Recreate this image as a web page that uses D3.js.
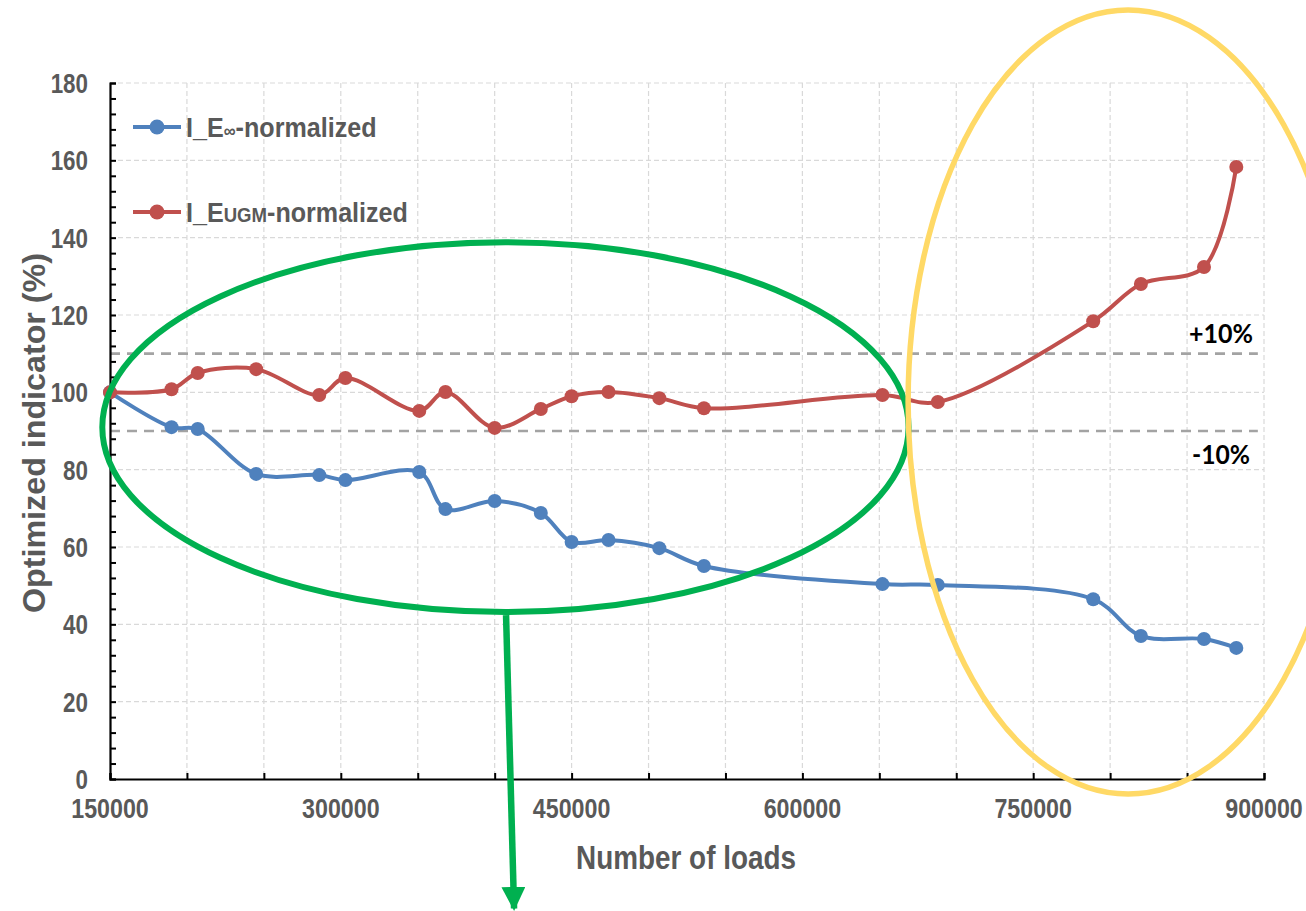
<!DOCTYPE html>
<html>
<head>
<meta charset="utf-8">
<script src="https://cdn.jsdelivr.net/npm/d3@7"></script>
<style>
  html, body { margin: 0; padding: 0; background: #fff; }
  svg { display: block; }
</style>
</head>
<body>
<svg id="chart" width="1306" height="911"></svg>
<script>
// ---------------- data ----------------
const loads = [150000, 190000, 207000, 245000, 286000, 303000, 351000, 368000, 400000, 430000,
               450000, 474000, 507000, 536000, 652000, 688000, 789000, 820000, 861000, 882000];
const eInfNormalized = [100, 91.0, 90.5, 78.9, 78.6, 77.3, 79.4, 69.8, 71.9, 68.8,
                        61.3, 61.8, 59.7, 55.1, 50.4, 50.2, 46.5, 37.0, 36.2, 33.9];
const eUgmNormalized = [100, 100.8, 105.0, 106.0, 99.3, 103.7, 95.2, 100.1, 90.8, 95.7,
                        99.0, 100.1, 98.5, 95.9, 99.3, 97.5, 118.4, 128.0, 132.4, 158.3];
const xTickValues = [150000, 300000, 450000, 600000, 750000, 900000];
const yTickValues = [0, 20, 40, 60, 80, 100, 120, 140, 160, 180];
const thresholdValues = [110, 90];
const thresholdLabels = ["+10%", "-10%"];
const xTitle = "Number of loads";
const yTitle = "Optimized indicator (%)";
// annotation shapes, in data units: [centerLoads, centerPct, radiusLoads, radiusPct]
const greenEllipse = [407000, 91, 262000, 47.8];
const yellowEllipse = [811700, 97.5, 143000, 101.4];
// arrow: [fromLoads, fromPct, toLoads, toPct]
const greenArrow = [407400, 42.4, 412600, -33.5];

// ---------------- layout ----------------
const svg = d3.select("#chart");
const L = 110, R = 1264, T = 83, B = 779;
const x = d3.scaleLinear().domain([150000, 900000]).range([L, R]);
const y = d3.scaleLinear().domain([0, 180]).range([B, T]);
const blue = "#4F81BD", red = "#C0504D", grey = "#595959";
const FONT = "'Liberation Sans', Arial, sans-serif";

// gridlines
const grid = svg.append("g");
grid.selectAll("line.v").data(d3.range(200000, 900001, 50000)).join("line")
  .attr("x1", d => x(d)).attr("x2", d => x(d)).attr("y1", T).attr("y2", B)
  .attr("stroke", "#D9D9D9").attr("stroke-width", 1.2).attr("stroke-dasharray", "5,3");
grid.selectAll("line.h").data(d3.range(20, 181, 20)).join("line")
  .attr("x1", L).attr("x2", R).attr("y1", d => y(d)).attr("y2", d => y(d))
  .attr("stroke", "#D9D9D9").attr("stroke-width", 1.2).attr("stroke-dasharray", "5,3");

// threshold lines
svg.append("g").selectAll("line").data(thresholdValues).join("line")
  .attr("x1", L).attr("x2", x(896000)).attr("y1", d => y(d)).attr("y2", d => y(d))
  .attr("stroke", "#A3A3A3").attr("stroke-width", 2.6).attr("stroke-dasharray", "10,7");

// axes
const yAxis = d3.axisLeft(y).tickValues(d3.range(0, 181, 4)).tickSize(-6).tickFormat("");
const xAxis = d3.axisBottom(x).tickValues(d3.range(150000, 900001, 50000)).tickSize(-6).tickFormat("");
const gy = svg.append("g").attr("transform", `translate(${L},0)`).call(yAxis);
const gx = svg.append("g").attr("transform", `translate(0,${B})`).call(xAxis);
[gx, gy].forEach(g => {
  g.select(".domain").attr("stroke", "#000").attr("stroke-width", 2.2);
  g.selectAll(".tick line").attr("stroke", "#000").attr("stroke-width", 2);
});

// helper for horizontally condensed text
function ctext(g, tx, ty, txt, size, anchor, sx, opts = {}) {
  return g.append("text")
    .attr("transform", `translate(${tx},${ty}) scale(${sx},1)`)
    .attr("text-anchor", anchor)
    .attr("font-family", opts.family || FONT)
    .attr("font-weight", "bold")
    .attr("font-size", size)
    .attr("fill", opts.fill || grey)
    .text(txt);
}

// tick labels
const lab = svg.append("g");
yTickValues.forEach(v => ctext(lab, 88, y(v) + 10, String(v), 28, "end", 0.8));
xTickValues.forEach(v => ctext(lab, x(v), 818, String(v), 28, "middle", 0.83));

// axis titles
ctext(lab, 686, 869, xTitle, 34, "middle", 0.82);
lab.append("text")
  .attr("transform", `translate(45,${(T + B) / 2 + 2}) rotate(-90)`)
  .attr("text-anchor", "middle")
  .attr("font-family", FONT).attr("font-weight", "bold").attr("font-size", 31)
  .attr("textLength", 360).attr("lengthAdjust", "spacingAndGlyphs")
  .attr("fill", grey).text(yTitle);

// threshold labels
thresholdLabels.forEach((t, i) => {
  lab.append("text")
    .attr("x", 1221).attr("y", i === 0 ? 343 : 464)
    .attr("text-anchor", "middle")
    .attr("font-family", "Lato, 'Open Sans', sans-serif").attr("font-weight", "bold")
    .attr("font-size", 27).attr("fill", "#000")
    .attr("textLength", i === 0 ? 64 : 58).attr("lengthAdjust", "spacingAndGlyphs")
    .text(t);
});

// series
const curve = d3.curveCatmullRom.alpha(0.5);
const series = [
  { name: "inf", values: eInfNormalized, color: blue },
  { name: "ugm", values: eUgmNormalized, color: red }
];
series.forEach(s => {
  const pts = loads.map((l, i) => [l, s.values[i]]);
  svg.append("path").datum(pts)
    .attr("d", d3.line().x(d => x(d[0])).y(d => y(d[1])).curve(curve))
    .attr("fill", "none").attr("stroke", s.color).attr("stroke-width", 4)
    .attr("stroke-linejoin", "round");
  svg.append("g").selectAll("circle").data(pts).join("circle")
    .attr("cx", d => x(d[0])).attr("cy", d => y(d[1])).attr("r", 7)
    .attr("fill", s.color);
});

// legend
const leg = svg.append("g");
const legendRows = [{ y: 127, color: blue }, { y: 212, color: red }];
legendRows.forEach(r => {
  leg.append("line").attr("x1", 133).attr("x2", 181).attr("y1", r.y).attr("y2", r.y)
    .attr("stroke", r.color).attr("stroke-width", 4);
  leg.append("circle").attr("cx", 157).attr("cy", r.y).attr("r", 7.5).attr("fill", r.color);
});
function legendText(yy, sub) {
  const t = leg.append("text")
    .attr("transform", `translate(186,${yy + 10}) scale(0.93,1)`)
    .attr("font-family", FONT).attr("font-weight", "bold").attr("font-size", 27)
    .attr("fill", grey);
  t.append("tspan").text("I_E");
  t.append("tspan").attr("font-size", sub.size).text(sub.text);
  t.append("tspan").text("-normalized");
}
legendText(127, { text: "\u221E", size: 18 });
legendText(212, { text: "UGM", size: 20 });

// annotations
const ann = svg.append("g");
[[greenEllipse, "#00B050", 6], [yellowEllipse, "#FFD966", 5.5]].forEach(([e, c, w]) => {
  ann.append("ellipse")
    .attr("cx", x(e[0])).attr("cy", y(e[1]))
    .attr("rx", x(e[0] + e[2]) - x(e[0])).attr("ry", y(e[1]) - y(e[1] + e[3]))
    .attr("fill", "none").attr("stroke", c).attr("stroke-width", w);
});
svg.append("defs").append("marker")
  .attr("id", "ah").attr("viewBox", "0 0 10 10").attr("refX", 9).attr("refY", 5)
  .attr("markerWidth", 24).attr("markerHeight", 24).attr("orient", "auto")
  .attr("markerUnits", "userSpaceOnUse")
  .append("path").attr("d", "M0,0 L10,5 L0,10 Z").attr("fill", "#00B050");
ann.append("line")
  .attr("x1", x(greenArrow[0])).attr("y1", y(greenArrow[1]))
  .attr("x2", x(greenArrow[2])).attr("y2", y(greenArrow[3]))
  .attr("stroke", "#00B050").attr("stroke-width", 6.5).attr("marker-end", "url(#ah)");
</script>
</body>
</html>
